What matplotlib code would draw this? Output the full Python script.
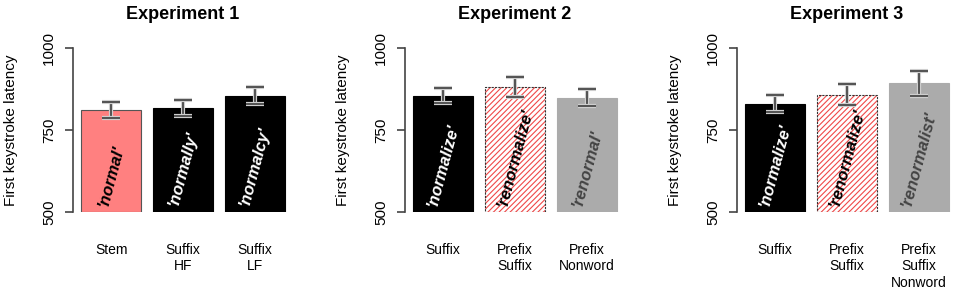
import matplotlib
matplotlib.use("Agg")
import matplotlib.pyplot as plt
import matplotlib.patheffects as pe
import numpy as np

plt.rcParams["font.family"] = ["Liberation Sans", "DejaVu Sans"]
plt.rcParams["hatch.linewidth"] = 0.8

# ── data ────────────────────────────────────────────────────────────────────
TITLES = ["Experiment 1", "Experiment 2", "Experiment 3"]
CATEGORIES = [
    ["Stem", "Suffix\nHF", "Suffix\nLF"],
    ["Suffix", "Prefix\nSuffix", "Prefix\nNonword"],
    ["Suffix", "Prefix\nSuffix", "Prefix\nSuffix\nNonword"],
]
WORDS = [
    ["'normal'", "'normally'", "'normalcy'"],
    ["'normalize'", "'renormalize'", "'renormal'"],
    ["'normalize'", "'renormalize'", "'renormalist'"],
]
MEANS = [
    [812, 816, 855],
    [855, 881, 849],
    [830, 858, 892],
]
ERRS = [
    [24, 24, 27],
    [24, 30, 25],
    [26, 33, 37],
]
YTICKS = [500, 750, 1000]

# ── styles ──────────────────────────────────────────────────────────────────
PINK = "#FF8080"
GREY = "#ABABAB"
HATCH_RED = "#F04848"
ERR_CLR = "#555555"
AXIS_CLR = "#444444"

# per panel: (face, edge, hatched, text colour)
STYLES = [
    [(PINK, "#555555", False, "black"), ("black", "black", False, "white"),
     ("black", "black", False, "white")],
    [("black", "black", False, "white"), ("white", "#333333", True, "black"),
     (GREY, GREY, False, "#444444")],
    [("black", "black", False, "white"), ("white", "#333333", True, "black"),
     (GREY, GREY, False, "#444444")],
]

W, H = 954, 293
fig = plt.figure(figsize=(W / 100, H / 100), dpi=100, facecolor="white")

x = np.array([0.7, 1.9, 3.1])
ax_left = [73, 405, 737]
ax_top, ax_bot, ax_w = 48, 212, 220

for p in range(3):
    ax = fig.add_axes([ax_left[p] / W, (H - ax_bot) / H, ax_w / W, (ax_bot - ax_top) / H])
    ax.set_xlim(0.064, 3.736)
    ax.set_ylim(500, 1000)

    for i in range(3):
        face, edge, hatched, tclr = STYLES[p][i]
        if hatched:
            ax.bar(x[i], MEANS[p][i] - 500, bottom=500, width=1, color="white",
                   edgecolor=HATCH_RED, hatch="//////", linewidth=0, zorder=2)
            ax.bar(x[i], MEANS[p][i] - 500, bottom=500, width=1, fill=False,
                   edgecolor=edge, linewidth=0.8, linestyle=(0, (2, 1)), zorder=3)
        else:
            ax.bar(x[i], MEANS[p][i] - 500, bottom=500, width=1, color=face,
                   edgecolor=edge, linewidth=0.8, zorder=2)

        ax.text(x[i], 511, WORDS[p][i], rotation=75, ha="center", va="bottom",
                fontsize=12, fontweight="bold", fontstyle="italic", color=tclr,
                zorder=5)

    eb = ax.errorbar(x, MEANS[p], yerr=ERRS[p], fmt="none", ecolor=ERR_CLR,
                     elinewidth=1.6, capsize=6.5, capthick=1.6, zorder=4)
    outline = [pe.Stroke(linewidth=3.0, foreground="#DDDDDD"), pe.Normal()]
    for c in eb[1]:
        c.set_path_effects(outline)
    for c in eb[2]:
        c.set_path_effects(outline)

    # axes styling: only left spine, R-like
    for s in ["top", "right", "bottom"]:
        ax.spines[s].set_visible(False)
    ax.spines["left"].set_color(AXIS_CLR)
    ax.spines["left"].set_linewidth(1.2)
    ax.spines["left"].set_bounds(500, 1000)
    ax.set_xticks([])
    ax.set_yticks(YTICKS)
    ax.set_yticklabels([str(t) for t in YTICKS], rotation=90, va="center")
    ax.tick_params(axis="y", length=5.5, width=1.2, color=AXIS_CLR,
                   labelsize=11, pad=6.5)

    ax.set_ylabel("First keystroke latency", fontsize=11, va="center")
    ax.yaxis.set_label_coords(-62 / ax_w, 0.5)
    ax.set_title(TITLES[p], fontsize=13, fontweight="bold", pad=21)

    for i in range(3):
        ax.text(x[i], -0.19, CATEGORIES[p][i], transform=ax.get_xaxis_transform(),
                ha="center", va="top", fontsize=10, linespacing=1.2)

fig.savefig("out.png", dpi=100, facecolor="white")
